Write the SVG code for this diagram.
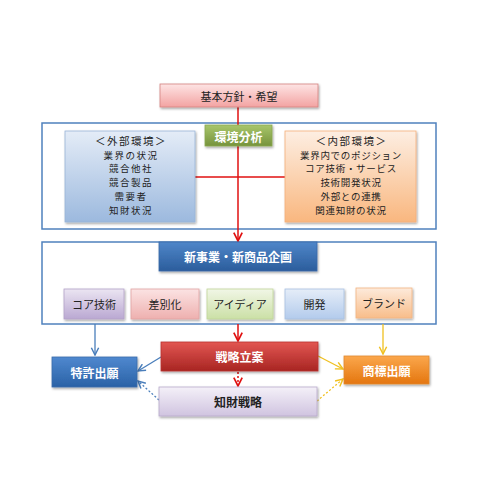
<svg xmlns="http://www.w3.org/2000/svg" width="500" height="500" viewBox="0 0 500 500">
<defs>
<linearGradient id="gPink" x1="0" y1="0" x2="0" y2="1"><stop offset="0" stop-color="#fde4e4"/><stop offset="1" stop-color="#f3a3a2"/></linearGradient>
<linearGradient id="gGreenD" x1="0" y1="0" x2="0" y2="1"><stop offset="0" stop-color="#a8c66b"/><stop offset="1" stop-color="#76933c"/></linearGradient>
<linearGradient id="gBlueL" x1="0" y1="0" x2="0" y2="1"><stop offset="0" stop-color="#e4ecf7"/><stop offset="1" stop-color="#9cb9de"/></linearGradient>
<linearGradient id="gOrangeL" x1="0" y1="0" x2="0" y2="1"><stop offset="0" stop-color="#fdeee2"/><stop offset="1" stop-color="#f9b77f"/></linearGradient>
<linearGradient id="gBlueD" x1="0" y1="0" x2="0" y2="1"><stop offset="0" stop-color="#4f86c9"/><stop offset="1" stop-color="#2b5d9c"/></linearGradient>
<linearGradient id="gPurple" x1="0" y1="0" x2="0" y2="1"><stop offset="0" stop-color="#ebe5f2"/><stop offset="1" stop-color="#baa8d2"/></linearGradient>
<linearGradient id="gRose" x1="0" y1="0" x2="0" y2="1"><stop offset="0" stop-color="#fbe3e3"/><stop offset="1" stop-color="#eeb0af"/></linearGradient>
<linearGradient id="gGreenL" x1="0" y1="0" x2="0" y2="1"><stop offset="0" stop-color="#f1f6e6"/><stop offset="1" stop-color="#cbe0a6"/></linearGradient>
<linearGradient id="gBlueM" x1="0" y1="0" x2="0" y2="1"><stop offset="0" stop-color="#e5edf8"/><stop offset="1" stop-color="#b3cbec"/></linearGradient>
<linearGradient id="gOrangeM" x1="0" y1="0" x2="0" y2="1"><stop offset="0" stop-color="#fdeadb"/><stop offset="1" stop-color="#f8bd8a"/></linearGradient>
<linearGradient id="gRed" x1="0" y1="0" x2="0" y2="1"><stop offset="0" stop-color="#e25652"/><stop offset="1" stop-color="#a82522"/></linearGradient>
<linearGradient id="gBlueP" x1="0" y1="0" x2="0" y2="1"><stop offset="0" stop-color="#4f88cf"/><stop offset="1" stop-color="#2a62a6"/></linearGradient>
<linearGradient id="gOrangeD" x1="0" y1="0" x2="0" y2="1"><stop offset="0" stop-color="#fba74c"/><stop offset="1" stop-color="#e4760f"/></linearGradient>
<linearGradient id="gLav" x1="0" y1="0" x2="0" y2="1"><stop offset="0" stop-color="#f4f0f8"/><stop offset="1" stop-color="#d0c4e0"/></linearGradient>
<filter id="sh" x="-10%" y="-20%" width="130%" height="150%"><feDropShadow dx="1" dy="1.5" stdDeviation="1" flood-color="#000" flood-opacity="0.35"/></filter>
<marker id="aRed" viewBox="0 0 10 10" refX="9" refY="5" markerWidth="7" markerHeight="7" orient="auto"><path d="M1,1 L9,5 L1,9" fill="none" stroke="#e01010" stroke-width="1.6"/></marker>
<marker id="aBlue" viewBox="0 0 10 10" refX="9" refY="5" markerWidth="7" markerHeight="7" orient="auto"><path d="M1,1 L9,5 L1,9" fill="none" stroke="#4a7ebb" stroke-width="1.6"/></marker>
<marker id="aYel" viewBox="0 0 10 10" refX="9" refY="5" markerWidth="7" markerHeight="7" orient="auto"><path d="M1,1 L9,5 L1,9" fill="none" stroke="#f0c020" stroke-width="1.6"/></marker>
</defs>
<style>
text{font-family:"Noto Sans CJK JP","Noto Sans CJK SC",sans-serif;text-anchor:middle;dominant-baseline:central}
.frame{fill:#fff;stroke:#4f81bd;stroke-width:1.5}
.box{filter:url(#sh)}
.dk{fill:#222;font-size:11px}
.hd{fill:#222;font-size:10.5px;letter-spacing:1.5px}
.lnL{fill:#222;font-size:9.5px;letter-spacing:1.5px}
.lnR{fill:#222;font-size:9.5px;letter-spacing:0.7px}
.wt{fill:#fff;font-size:12px;font-weight:bold}
.bd{fill:#222;font-size:12px;font-weight:bold}
.red{stroke:#e01010;stroke-width:1.5;fill:none}
.blue{stroke:#4a7ebb;stroke-width:1.3;fill:none}
.yel{stroke:#f0c020;stroke-width:1.3;fill:none}
.dot{stroke-dasharray:2,2}
</style>
<rect width="500" height="500" fill="#fff"/>
<rect class="frame" x="42" y="123" width="394" height="106"/>
<rect class="frame" x="42" y="242" width="394" height="82"/>
<g id="connectors">
<line class="red" x1="238" y1="107" x2="238" y2="125"/>
<line class="red" x1="238" y1="146" x2="238" y2="241" marker-end="url(#aRed)"/>
<line class="red" x1="195" y1="177" x2="285" y2="177"/>
<line class="red" x1="238" y1="324" x2="238" y2="341" marker-end="url(#aRed)"/>
<line class="red dot" x1="238" y1="372" x2="238" y2="386" marker-end="url(#aRed)"/>
<line class="blue" x1="95" y1="324" x2="95" y2="355" marker-end="url(#aBlue)"/>
<line class="blue" x1="161" y1="357" x2="138" y2="371" marker-end="url(#aBlue)"/>
<line class="blue dot" x1="159" y1="400" x2="138" y2="381" marker-end="url(#aBlue)"/>
<line class="yel" x1="383" y1="324" x2="383" y2="354" marker-end="url(#aYel)"/>
<line class="yel" x1="318" y1="356" x2="343" y2="369" marker-end="url(#aYel)"/>
<line class="yel dot" x1="317" y1="401" x2="343" y2="379" marker-end="url(#aYel)"/>
</g>
<g id="kihon"><rect class="box" x="160" y="84" width="158" height="23" fill="url(#gPink)" stroke="#d4827f" stroke-width="0.8"/><text class="dk" x="239" y="96" font-size="12">基本方針・希望</text></g>
<g id="kankyo"><rect class="box" x="205" y="125" width="67" height="21" fill="url(#gGreenD)" stroke="#8aa84f" stroke-width="0.8"/><text class="wt" x="238.5" y="136">環境分析</text></g>
<g id="gaibu"><rect class="box" x="65" y="131" width="130" height="91" fill="url(#gBlueL)" stroke="#9ab5d8" stroke-width="0.8"/>
<text class="hd" x="131" y="140">＜外部環境＞</text>
<text class="lnL" x="131" y="154.6">業界の状況</text>
<text class="lnL" x="131" y="168.4">競合他社</text>
<text class="lnL" x="131" y="182.2">競合製品</text>
<text class="lnL" x="131" y="196">需要者</text>
<text class="lnL" x="131" y="209.8">知財状況</text></g>
<g id="naibu"><rect class="box" x="285" y="131" width="131" height="91" fill="url(#gOrangeL)" stroke="#f4b07a" stroke-width="0.8"/>
<text class="hd" x="351.5" y="140">＜内部環境＞</text>
<text class="lnR" x="351" y="154.6">業界内でのポジション</text>
<text class="lnR" x="351" y="168.4">コア技術・サービス</text>
<text class="lnR" x="351" y="182.2">技術開発状況</text>
<text class="lnR" x="351" y="196">外部との連携</text>
<text class="lnR" x="351" y="209.8">関連知財の状況</text></g>
<g id="shinjigyo"><rect class="box" x="159" y="242" width="158" height="29" fill="url(#gBlueD)" stroke="#3b6aa8" stroke-width="0.8"/><text class="wt" x="238" y="256.5">新事業・新商品企画</text></g>
<g id="core"><rect class="box" x="64" y="289" width="60" height="30" fill="url(#gPurple)" stroke="#b3a2c9" stroke-width="0.8"/><text class="dk" x="94" y="304">コア技術</text></g>
<g id="sabetsu"><rect class="box" x="131" y="289" width="68" height="30" fill="url(#gRose)" stroke="#e0a4a3" stroke-width="0.8"/><text class="dk" x="165" y="304">差別化</text></g>
<g id="idea"><rect class="box" x="207" y="289" width="66" height="30" fill="url(#gGreenL)" stroke="#c0d69a" stroke-width="0.8"/><text class="dk" x="240" y="304">アイディア</text></g>
<g id="kaihatsu"><rect class="box" x="285" y="289" width="59" height="30" fill="url(#gBlueM)" stroke="#a9c1e2" stroke-width="0.8"/><text class="dk" x="314.5" y="304">開発</text></g>
<g id="brand"><rect class="box" x="356" y="288" width="56" height="30" fill="url(#gOrangeM)" stroke="#f2b583" stroke-width="0.8"/><text class="dk" x="384" y="303">ブランド</text></g>
<g id="senryaku"><rect class="box" x="161" y="342" width="157" height="29" fill="url(#gRed)" stroke="#b83330" stroke-width="0.8"/><text class="wt" x="239.5" y="356.5">戦略立案</text></g>
<g id="tokkyo"><rect class="box" x="52" y="357" width="85" height="30" fill="url(#gBlueP)" stroke="#3a6cab" stroke-width="0.8"/><text class="wt" x="94.5" y="372">特許出願</text></g>
<g id="shohyo"><rect class="box" x="344" y="356" width="85" height="28" fill="url(#gOrangeD)" stroke="#e08a30" stroke-width="0.8"/><text class="wt" x="386.5" y="370">商標出願</text></g>
<g id="chizai"><rect class="box" x="159" y="387" width="158" height="29" fill="url(#gLav)" stroke="#b8aacb" stroke-width="0.8"/><text class="bd" x="238" y="401.5">知財戦略</text></g>
</svg>
